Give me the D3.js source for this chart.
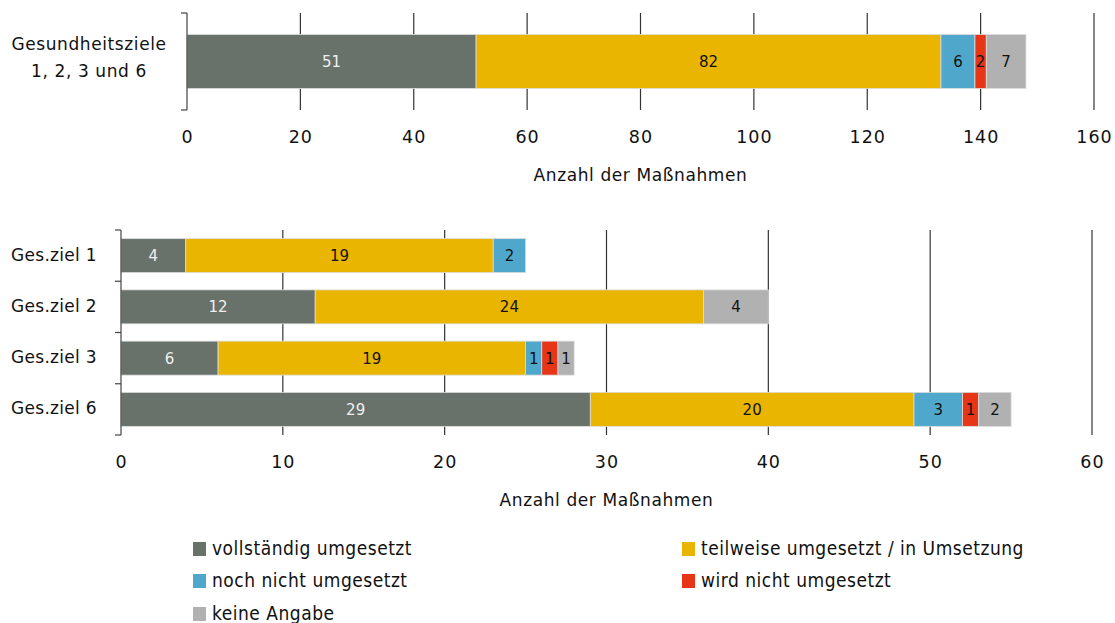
<!DOCTYPE html>
<html><head><meta charset="utf-8">
<script src="https://cdn.jsdelivr.net/npm/d3@7"></script>
<style>
body{margin:0;background:#fff;}
text{font-family:"DejaVu Sans",sans-serif;}
</style></head>
<body><svg id="c" width="1115" height="623"></svg>
<script>
const seriesNames = ["vollständig umgesetzt","teilweise umgesetzt / in Umsetzung","noch nicht umgesetzt","wird nicht umgesetzt","keine Angabe"];
const seriesColors = ["#68716a","#e9b500","#4fa8cb","#e63517","#b1b1b1"];
const labelColors = ["#f0f0f0","#111","#111","#111","#111"];

const topCategories = ["Gesundheitsziele 1, 2, 3 und 6"];
const topLabelLines = [["Gesundheitsziele","1, 2, 3 und 6"]];
const topValues = [[51, 82, 6, 2, 7]];
const topTicks = [0,20,40,60,80,100,120,140,160];

const botCategories = ["Ges.ziel 1","Ges.ziel 2","Ges.ziel 3","Ges.ziel 6"];
const botVollstaendig = [4, 12, 6, 29];
const botTeilweise    = [19, 24, 19, 20];
const botNochNicht    = [2, 0, 1, 3];
const botWirdNicht    = [0, 0, 1, 1];
const botKeineAngabe  = [0, 4, 1, 2];
const botTicks = [0,10,20,30,40,50,60];
const axisTitle = "Anzahl der Maßnahmen";

const svg = d3.select("#c");

function drawChart(cfg){
  const g = svg.append("g");
  const x = d3.scaleLinear().domain(cfg.domain).range([cfg.x0, cfg.x1]);
  const y = d3.scaleBand().domain(cfg.categories).range([cfg.y0, cfg.y1])
              .paddingInner(cfg.pad).paddingOuter(cfg.pad/2);
  // gridlines
  g.selectAll(".grid").data(cfg.ticks.filter(t=>t>0)).join("line")
    .attr("x1", d=>x(d)).attr("x2", d=>x(d))
    .attr("y1", cfg.y0).attr("y2", cfg.y1)
    .attr("stroke", "#333").attr("stroke-width", 1.2);
  // x tick labels
  g.selectAll(".tl").data(cfg.ticks).join("text")
    .attr("x", d=>x(d)+0.5).attr("y", cfg.y1 + 28)
    .attr("text-anchor","middle").attr("dominant-baseline","middle")
    .attr("font-size", 17.5).attr("letter-spacing", 1).attr("fill","#111")
    .text(d=>d);
  g.append("text").attr("x", (cfg.x0+cfg.x1)/2 ).attr("y", cfg.y1 + 66)
    .attr("text-anchor","middle").attr("dominant-baseline","middle")
    .attr("font-size", 17).attr("letter-spacing", 0.6).attr("fill","#111").text(axisTitle);
  // stacked bars
  const rows = cfg.categories.map((c,i)=>{ let acc=0; return cfg.values[i].map((v,k)=>{const s={cat:c,k:k,v:v,a:acc,b:acc+v}; acc+=v; return s;}); });
  const segs = rows.flat().filter(d=>d.v>0);
  g.selectAll(".seg").data(segs).join("rect")
    .attr("x", d=>x(d.a)).attr("width", d=>x(d.b)-x(d.a))
    .attr("y", d=>y(d.cat)).attr("height", y.bandwidth())
    .attr("fill", d=>seriesColors[d.k])
    .attr("stroke","#dcdcdc").attr("stroke-width",0.8);
  g.selectAll(".sl").data(segs).join("text")
    .attr("x", d=>(x(d.a)+x(d.b))/2).attr("y", d=>y(d.cat)+y.bandwidth()/2+1)
    .attr("text-anchor","middle").attr("dominant-baseline","middle")
    .attr("font-size", 15).attr("fill", d=>labelColors[d.k])
    .text(d=>d.v);
  // y axis
  const step = y.step();
  g.append("line").attr("x1",cfg.x0).attr("x2",cfg.x0).attr("y1",cfg.y0).attr("y2",cfg.y1)
    .attr("stroke","#444").attr("stroke-width",1.2);
  g.selectAll(".yt").data(d3.range(cfg.categories.length+1)).join("line")
    .attr("x1",cfg.x0-6).attr("x2",cfg.x0)
    .attr("y1",d=>cfg.y0+d*step).attr("y2",d=>cfg.y0+d*step)
    .attr("stroke","#444").attr("stroke-width",1.2);
  return {x,y};
}

const t = drawChart({domain:[0,160], x0:187, x1:1094, y0:13, y1:110, pad:0.443,
  categories: topCategories, values: topValues, ticks: topTicks});
topLabelLines[0].forEach((ln,i)=>{
  svg.append("text").attr("x",89).attr("y", 45 + i*27)
    .attr("text-anchor","middle").attr("dominant-baseline","middle")
    .attr("font-size",17).attr("letter-spacing",0.6).attr("fill","#111").text(ln);
});

const botValues = botCategories.map((c,i)=>[botVollstaendig[i],botTeilweise[i],botNochNicht[i],botWirdNicht[i],botKeineAngabe[i]]);
const b = drawChart({domain:[0,60], x0:121, x1:1092, y0:230, y1:435, pad:0.337,
  categories: botCategories, values: botValues, ticks: botTicks});
svg.selectAll(".bl").data(botCategories).join("text")
  .attr("x", 11).attr("y", d=>b.y(d)+b.y.bandwidth()/2)
  .attr("dominant-baseline","middle").attr("font-size",17).attr("letter-spacing",0.3).attr("fill","#111")
  .text(d=>d);

// legend
const legPos = [[193,548],[682,548],[193,580],[682,580],[193,613]];
const lg = svg.append("g");
seriesNames.forEach((n,i)=>{
  const [lx,ly] = legPos[i];
  lg.append("rect").attr("x",lx).attr("y",ly-6).attr("width",13).attr("height",14).attr("fill",seriesColors[i]);
  lg.append("text").attr("x",lx+19).attr("y",ly+1)
    .attr("dominant-baseline","middle").attr("font-size",19).attr("letter-spacing",0.5)
    .attr("font-stretch","condensed").style("font-family","'DejaVu Sans Condensed','DejaVu Sans',sans-serif")
    .attr("fill","#111").text(n);
});
</script></body></html>
